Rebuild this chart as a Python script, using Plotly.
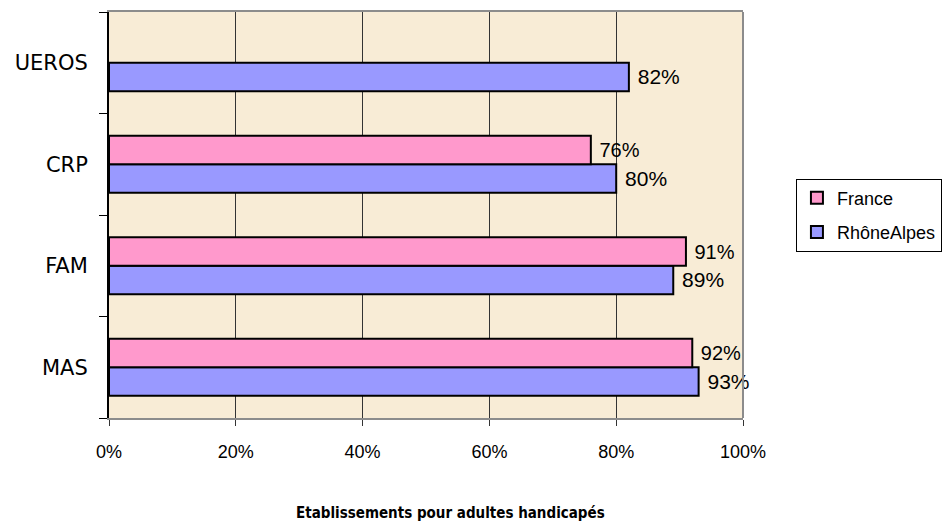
import plotly.graph_objects as go

categories = ["MAS", "FAM", "CRP", "UEROS"]
france = [92, 91, 76, None]
rhone_alpes = [93, 89, 80, 82]
x_ticks = [0, 20, 40, 60, 80, 100]
x_tick_labels = ["0%", "20%", "40%", "60%", "80%", "100%"]
x_title = "Etablissements pour adultes handicapés"

def labels(vals):
    return ["" if v is None else f"\u00a0{v}%" for v in vals]

fig = go.Figure()
fig.add_trace(go.Bar(
    y=categories, x=rhone_alpes, name="RhôneAlpes", orientation="h",
    marker=dict(color="#9999FF", line=dict(color="black", width=2)),
    text=labels(rhone_alpes), textposition="outside", constraintext="none",
    textfont=dict(family="Liberation Sans, Arial", size=21, color="black"),
    cliponaxis=False, legendrank=2, legendgroup="b",
))
fig.add_trace(go.Bar(
    y=categories, x=france, name="France", orientation="h",
    marker=dict(color="#FF99CC", line=dict(color="black", width=2)),
    text=labels(france), textposition="outside", constraintext="none",
    textfont=dict(family="Liberation Sans, Arial", size=20, color="black"),
    cliponaxis=False, legendrank=1, legendgroup="a",
))

fig.update_layout(
    width=947, height=525,
    barmode="group", bargap=0.44, bargroupgap=0,
    paper_bgcolor="white", plot_bgcolor="#F8ECD6",
    margin=dict(l=109, r=204, t=12, b=107, autoexpand=False),
    showlegend=True,
    legend=dict(
        x=1.0835, xanchor="left", y=0.5, yanchor="middle",
        xref="paper", yref="paper",
        bordercolor="black", borderwidth=1, bgcolor="white",
        font=dict(family="Liberation Sans, Arial", size=18, color="black"),
        itemwidth=30, tracegroupgap=8,
        traceorder="grouped",
    ),
    font=dict(family="Liberation Sans, Arial", size=16, color="black"),
)

fig.update_xaxes(
    range=[0, 100], tickvals=x_ticks, ticktext=x_tick_labels,
    showgrid=True, gridcolor="#333333", gridwidth=1,
    showline=True, linecolor="#8c8c8c", linewidth=2, mirror=True,
    ticks="outside", ticklen=6, tickcolor="#333333",
    ticklabelstandoff=10, automargin=False,
    tickfont=dict(family="Liberation Sans, Arial", size=18, color="black"),
    zeroline=False,
)
fig.update_yaxes(
    categoryorder="array", categoryarray=categories,
    showline=True, linecolor="black", linewidth=2,
    ticks="outside", ticklen=8, tickcolor="black", tickson="boundaries",
    ticklabelstandoff=15, automargin=False,
    tickfont=dict(family="DejaVu Sans", size=21, color="black"),
    showgrid=False, zeroline=False,
)
fig.add_annotation(
    text=f"<b>{x_title}</b>", xref="paper", yref="paper",
    x=0.5386, y=-0.234, xanchor="center", yanchor="middle", showarrow=False,
    font=dict(family="DejaVu Sans Condensed, DejaVu Sans", size=15, color="black"),
)
fig.add_shape(type="line", xref="paper", yref="paper", x0=1, x1=1, y0=0, y1=1,
              line=dict(color="#8c8c8c", width=2), layer="above")

fig.write_html("out.html", config={"displayModeBar": False},
               post_script="document.body.style.margin='0';")
